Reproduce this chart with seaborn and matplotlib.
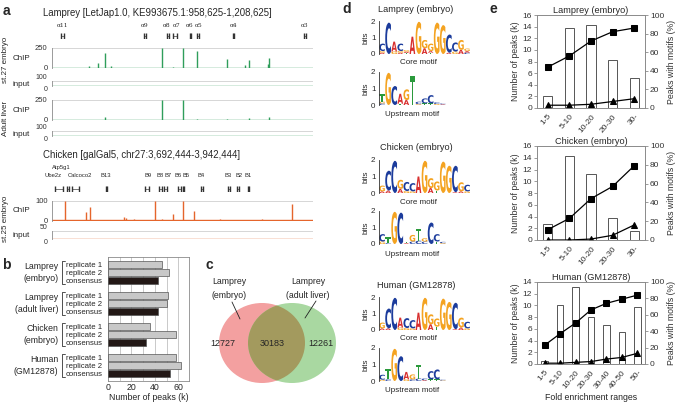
import numpy as np
import matplotlib
matplotlib.use("Agg")
import matplotlib.pyplot as plt
import matplotlib.transforms as mtransforms
from matplotlib.patches import Ellipse, PathPatch
from matplotlib.textpath import TextPath
from matplotlib.font_manager import FontProperties
import seaborn as sns

sns.set_theme(style="white")
plt.rcParams['font.family'] = ['Liberation Sans', 'DejaVu Sans']

# ---------------- data ----------------
# panel a: lamprey locus (kb from 958,625)
lam_genes = ["α11", "α9", "α8", "α7", "α6", "α5", "α4", "α3"]
lam_gene_start = [9, 88, 110.5, 115.5, 132, 139, 173, 241]
lam_gene_end = [11.5, 90.5, 112.5, 120, 133.5, 140.5, 174.5, 243]
lam_label_kb = [10.2, 89.2, 109.5, 119, 131.5, 140.5, 173.6, 242]
lam_emb_peak_kb = [36, 44, 51, 57, 105, 115.5, 125, 138.5, 168, 185, 189, 206.5, 207.5]
lam_emb_peak_h = [30, 62, 190, 20, 250, 15, 250, 210, 112, 40, 95, 50, 120]
lam_liv_peak_kb = [51, 105, 125, 138.5, 168, 189, 207.5]
lam_liv_peak_h = [35, 250, 250, 10, 8, 30, 33]

# chicken locus (kb from 3,692,444)
chk_genes = ["Ube2z", "Atp5g1", "Calcoco2", "B13", "B9", "B8", "B7", "B6", "B5", "B4", "B3", "B2", "B1"]
chk_gene_start = [3, 15, 19, 51.5, 89.5, 103, 107, 121, 125, 143, 168.5, 177.5, 187.5]
chk_gene_end = [11, 17, 26, 53, 93, 105, 110, 123.5, 126.5, 144.5, 170.5, 179, 189]
chk_label_kb = [1.7, 9, 27, 52, 92, 103.5, 111, 120.5, 128.5, 142.7, 169, 178.7, 188]
chk_label_row = [0, 1, 0, 0, 0, 0, 0, 0, 0, 0, 0, 0, 0]
chk_peak_kb = [13, 33, 36.6, 69, 71, 79, 99, 105, 115.6, 125, 135.7, 161, 201, 229.6]
chk_peak_h = [98, 45, 70, 18, 15, 8, 100, 8, 32, 100, 50, 8, 8, 83]

# panel b: number of peaks (k)
b_groups = ["Lamprey\n(embryo)", "Lamprey\n(adult liver)", "Chicken\n(embryo)", "Human\n(GM12878)"]
b_rows = ["replicate 1", "replicate 2", "consensus"]
rep1 = [46, 51, 35.5, 58]
rep2 = [52, 50, 58, 62.5]
consensus = [42.5, 42.5, 32.5, 52.5]

# panel c: overlap of lamprey peaks
venn_counts = [12727, 30183, 12261]

# panel d: motif logos (bits per letter)
lamprey_core = [
    {"A": 0.08, "G": 0.1, "C": 0.45}, {"C": 1.9}, {"G": 0.15, "A": 0.6},
    {"G": 0.1, "A": 0.08, "C": 0.45}, {"T": 0.06, "A": 0.08, "G": 0.1}, {"A": 1.05},
    {"G": 1.95}, {"A": 0.35, "G": 0.5}, {"T": 0.08, "A": 0.1, "G": 0.45},
    {"G": 1.9}, {"G": 1.75}, {"A": 0.08, "C": 1.1},
    {"G": 0.15, "C": 0.55}, {"A": 0.25, "G": 0.6}, {"C": 0.08, "A": 0.1, "G": 0.15},
]
lamprey_up = [
    {"C": 0.1, "G": 0.1, "T": 0.45}, {"G": 1.95}, {"C": 1.15}, {"T": 0.08, "A": 0.6},
    {"A": 0.3, "G": 0.65}, {"T": 1.75}, {"G": 0.05, "C": 0.15}, {"T": 0.1, "C": 0.3},
    {"T": 0.1, "C": 0.5}, {"G": 0.06, "C": 0.1}, {"A": 0.04, "C": 0.05},
]
chicken_core = [
    {"A": 0.1, "G": 0.35}, {"A": 0.15, "C": 1.2}, {"C": 1.95}, {"A": 0.25, "G": 0.55},
    {"G": 0.12, "C": 0.55}, {"G": 0.1, "C": 0.5}, {"A": 1.0}, {"G": 1.95},
    {"A": 0.3, "G": 0.6}, {"T": 0.15, "G": 0.55}, {"G": 1.9}, {"G": 1.65},
    {"A": 0.05, "C": 1.6}, {"A": 0.1, "G": 0.55}, {"G": 0.1, "C": 0.4},
]
chicken_up = [
    {"G": 0.15, "C": 0.45}, {"C": 0.05, "T": 0.35}, {"G": 1.95}, {"C": 1.9},
    {"T": 0.08, "A": 0.05}, {"C": 0.15, "G": 0.4}, {"C": 0.2, "T": 0.7},
    {"C": 0.15, "G": 0.2}, {"C": 1.3}, {"T": 0.15, "C": 0.45}, {"G": 0.05, "C": 0.08},
]
human_core = [
    {"A": 0.1, "G": 0.35}, {"A": 0.1, "C": 1.2}, {"C": 1.95}, {"G": 0.15, "A": 0.6},
    {"G": 0.12, "C": 0.6}, {"G": 0.1, "C": 0.5}, {"A": 1.05}, {"G": 1.95},
    {"A": 0.35, "G": 0.6}, {"T": 0.2, "G": 0.5}, {"G": 1.9}, {"G": 1.7},
    {"A": 0.05, "C": 1.6}, {"A": 0.15, "G": 0.6}, {"G": 0.1, "C": 0.4},
]
human_up = [
    {"G": 0.08, "C": 0.3}, {"C": 0.1, "T": 0.65}, {"G": 1.95}, {"C": 1.5},
    {"G": 0.1, "A": 0.45}, {"C": 0.1, "G": 0.3}, {"C": 0.15, "T": 0.85},
    {"A": 0.05, "C": 0.1}, {"T": 0.1, "C": 0.5}, {"T": 0.1, "C": 0.6}, {"G": 0.03, "C": 0.05},
]

# panel e: fold enrichment
e_cats5 = ["1-5", "5-10", "10-20", "20-30", "30-"]
e_cats7 = ["1-5", "5-10", "10-20", "20-30", "30-40", "40-50", "50-"]
lam_e_peaks = [2.1, 13.8, 14.2, 8.3, 5.2]
lam_e_core = [44, 56, 72, 82, 86]
lam_e_up = [3, 3, 4, 7, 10]
chk_e_peaks = [2.8, 14.3, 11.2, 3.8, 1.5]
chk_e_core = [11, 23, 44, 57, 79]
chk_e_up = [0, 0, 1, 5, 16]
hum_e_peaks = [0.5, 10.0, 13.1, 8.0, 6.6, 5.4, 9.7]
hum_e_core = [23, 37, 50, 66, 74, 79, 84]
hum_e_up = [1, 1, 2, 3, 6, 8, 13]

# ---------------- figure helpers ----------------
W, H = 675, 404
fig = plt.figure(figsize=(W / 100, H / 100), dpi=100)


def box(x0, y0, x1, y1):
    return fig.add_axes([x0 / W, 1 - y1 / H, (x1 - x0) / W, (y1 - y0) / H])


def ftext(x, y, s, **kw):
    kw.setdefault("va", "center")
    fig.text(x / W, 1 - y / H, s, **kw)


GRAY = "#8a8a8a"
LAM_COL = "#2f9e5b"
CHK_COL = "#e5652c"

for lab, (x, y) in zip("abcde", [(6, 11), (6, 265), (209, 265), (347, 9), (493, 9)]):
    ftext(x, y, lab, fontsize=10, fontweight="bold", ha="center")


# ---------------- panel a ----------------
def gene_axis(y0, y1, starts, ends):
    ax = box(51.7, y0, 313.3, y1)
    ax.set_xlim(0, 250)
    ax.set_ylim(0, 1)
    ax.axis("off")
    for s, e in zip(starts, ends):
        ax.plot([s, e], [0.45, 0.45], color="#444444", lw=0.5)
        ax.vlines([s, e], 0.0, 0.9, color="#333333", lw=1.0)
    return ax


def track(y0, y1, ymax, kb, heights, color, small=False):
    ax = box(51.7, y0, 313.3, y1)
    ax.set_xlim(0, 250)
    ax.set_ylim(0, ymax)
    ax.axhline(ymax, color="#d0d0d0", lw=0.6)
    ax.axhline(ymax * 0.02, color=color, lw=1.0)
    ax.vlines(kb, 0, heights, color=color, lw=1.0)
    for sp in ["top", "right", "bottom"]:
        ax.spines[sp].set_visible(False)
    ax.spines["left"].set_color(GRAY)
    ax.spines["left"].set_linewidth(0.6)
    ax.set_xticks([])
    ax.set_yticks([0, ymax])
    ax.tick_params(axis="y", direction="in", length=2, width=0.6, color=GRAY,
                   labelsize=5 if small else 5.5, pad=3, labelcolor="#333333")
    if small:
        lo, hi = ax.get_yticklabels()
        lo.set_va("top")
        hi.set_va("bottom")
    return ax


ftext(43, 12.5, "Lamprey [LetJap1.0, KE993675.1:958,625-1,208,625]", fontsize=6.9)
gax = gene_axis(32, 39, lam_gene_start, lam_gene_end)
for g, x in zip(lam_genes, lam_label_kb):
    gax.text(x, 2.0, g, fontsize=4.2, ha="center", va="center", family="DejaVu Serif")
track(48, 68, 250, lam_emb_peak_kb, lam_emb_peak_h, LAM_COL)
track(80.7, 85.7, 100, [], [], LAM_COL, small=True)
track(100, 120, 250, lam_liv_peak_kb, lam_liv_peak_h, LAM_COL)
track(130.7, 136, 100, [], [], LAM_COL, small=True)
for y, s in [(58, "ChIP"), (84, "input"), (110, "ChIP"), (134, "input")]:
    ftext(21, y, s, fontsize=5.8, ha="center")
ftext(6, 60, "st.27 embryo", fontsize=5.8, rotation=90, ha="center")
ftext(6, 118, "Adult liver", fontsize=5.8, rotation=90, ha="center")

ftext(43, 155, "Chicken [galGal5, chr27:3,692,444-3,942,444]", fontsize=6.9)
gax = gene_axis(185, 192, chk_gene_start, chk_gene_end)
for g, x, r in zip(chk_genes, chk_label_kb, chk_label_row):
    gax.text(x, 2.3 + 1.25 * r, g, fontsize=4.2, ha="center", va="center")
track(200.7, 220.7, 100, chk_peak_kb, chk_peak_h, CHK_COL)
track(231, 239, 50, [], [], CHK_COL, small=True)
for y, s in [(211, "ChIP"), (236, "input")]:
    ftext(21, y, s, fontsize=5.8, ha="center")
ftext(6, 219, "st.25 embryo", fontsize=5.8, rotation=90, ha="center")

# ---------------- panel b ----------------
axb = box(108, 257, 189, 381)
step = len(b_rows) + 0.85
ypos, vals, cols = [], [], []
for g in range(len(b_groups)):
    for r, series in enumerate([rep1, rep2, consensus]):
        ypos.append(g * step + r)
        vals.append(series[g])
        cols.append("#231816" if r == 2 else "#c8c8c8")
axb.barh(ypos, vals, height=0.88, color=cols, edgecolor="#555555", linewidth=0.5, zorder=3)
axb.set_xlim(0, 69)
axb.set_ylim(ypos[-1] + 0.9, -0.9)
axb.set_xticks([0, 20, 40, 60])
axb.set_xticks(np.arange(10, 70, 10), minor=True)
axb.grid(True, axis="x", which="both", color="#c0c0c0", lw=0.6)
axb.set_yticks(ypos)
axb.set_yticklabels(b_rows * len(b_groups))
axb.tick_params(axis="y", length=0, labelsize=5.6, pad=4)
axb.tick_params(axis="x", length=0, labelsize=6.3, pad=1.5)
axb.set_xlabel("Number of peaks (k)", fontsize=6.3, labelpad=0.5)
for sp in axb.spines.values():
    sp.set_color(GRAY)
    sp.set_linewidth(0.6)
tr = axb.get_yaxis_transform()
for g, name in enumerate(b_groups):
    top, bot = g * step - 0.4, g * step + 2.4
    axb.text(-0.61, g * step + 1, name, transform=tr, ha="right", va="center",
             fontsize=6.3, linespacing=1.35)
    axb.plot([-0.535, -0.565, -0.565, -0.535], [top, top, bot, bot], transform=tr,
             color="#333333", lw=0.6, clip_on=False)

# ---------------- panel c ----------------
axc = box(200, 270, 350, 395)
axc.set_xlim(200, 350)
axc.set_ylim(395, 270)
axc.axis("off")
red = Ellipse((262, 343), 86, 80, color="#f3a0a0", lw=0)
green = Ellipse((292, 343), 88, 80, color="#a9d8a1", lw=0)
axc.add_patch(red)
axc.add_patch(green)
over = Ellipse((262, 343), 86, 80, color="#a39a5e", lw=0)
axc.add_patch(over)
over.set_clip_path(green)
for x, n in zip([223, 272, 321], venn_counts):
    axc.text(x, 344, str(n), fontsize=6.5, ha="center", va="center")
axc.text(229, 281, "Lamprey", fontsize=6.3, ha="center", va="center")
axc.text(229, 295, "(embryo)", fontsize=6.3, ha="center", va="center")
axc.text(308, 281, "Lamprey", fontsize=6.3, ha="center", va="center")
axc.text(308, 295, "(adult liver)", fontsize=6.3, ha="center", va="center")
axc.plot([232, 240], [302, 319], color="#222222", lw=0.6)
axc.plot([316, 305], [301, 318], color="#222222", lw=0.6)

# ---------------- panel d ----------------
LOGO_FP = FontProperties(family="DejaVu Sans", weight="bold")
LOGO_COLORS = {"A": "#d8302f", "C": "#1c3c9c", "G": "#f4a321", "T": "#2b9a3c"}


def draw_logo(y0, y1, motif):
    ax = box(379, y0, 379 + 6.07 * len(motif), y1)
    for i, col in enumerate(motif):
        base = 0
        for letter, h in sorted(col.items(), key=lambda kv: kv[1]):
            tp = TextPath((0, 0), letter, size=1, prop=LOGO_FP)
            bb = tp.get_extents()
            t = (mtransforms.Affine2D().translate(-bb.x0, -bb.y0)
                 .scale(0.94 / bb.width, h / bb.height).translate(i - 0.47, base))
            ax.add_patch(PathPatch(t.transform_path(tp), fc=LOGO_COLORS[letter], ec="none"))
            base += h
    ax.set_xlim(-0.5, len(motif) - 0.5)
    ax.set_ylim(0, 2)
    for sp in ["top", "right", "bottom"]:
        ax.spines[sp].set_visible(False)
    ax.spines["left"].set_color("#333333")
    ax.spines["left"].set_linewidth(0.6)
    ax.set_xticks([])
    ax.set_yticks([0, 1, 2])
    ax.tick_params(axis="y", length=1.5, width=0.6, labelsize=5.8, pad=1)
    ax.set_ylabel("bits", fontsize=5.8, labelpad=1)
    return ax


for top, title, core, up in [(0, "Lamprey (embryo)", lamprey_core, lamprey_up),
                             (139, "Chicken (embryo)", chicken_core, chicken_up),
                             (276, "Human (GM12878)", human_core, human_up)]:
    ftext(416, top + 9, title, fontsize=6.6, ha="center")
    draw_logo(top + 21, top + 54, core)
    ftext(418, top + 63, "Core motif", fontsize=5.8, ha="center")
    draw_logo(top + 72, top + 105, up)
    ftext(412, top + 115, "Upstream motif", fontsize=5.8, ha="center")


# ---------------- panel e ----------------
def fold_panel(y0, y1, title, cats, peaks, core, up, ymax, xlabel=None):
    ax = box(537, y0, 645, y1)
    sns.barplot(x=cats, y=peaks, ax=ax, color="white", edgecolor="#555555",
                linewidth=0.7, width=0.42, saturation=1)
    ax.set_ylim(0, ymax)
    ax.set_yticks(np.arange(0, ymax + 1, 2))
    ax2 = ax.twinx()
    xs = np.arange(len(cats))
    sns.lineplot(x=xs, y=core, ax=ax2, color="black", lw=0.9, marker="s",
                 markersize=4.5, markeredgecolor="black")
    sns.lineplot(x=xs, y=up, ax=ax2, color="black", lw=0.9, marker="^",
                 markersize=4.5, markeredgecolor="black")
    ax2.set_ylim(0, 100)
    ax2.set_yticks(np.arange(0, 101, 20))
    ax.set_xlim(-0.5, len(cats) - 0.5)
    for a in (ax, ax2):
        for sp in a.spines.values():
            sp.set_color(GRAY)
            sp.set_linewidth(0.6)
        a.tick_params(length=2, width=0.6, color=GRAY, labelsize=6, pad=1.5, labelcolor="#333333")
    ax.set_xticks(xs)
    ax.set_xticklabels(cats, rotation=50, ha="right", rotation_mode="anchor", fontsize=6)
    ax.set_ylabel("Number of peaks (k)", fontsize=6.3, labelpad=2, color="#333333")
    ax2.set_ylabel("Peaks with motifs (%)", fontsize=6.3, labelpad=2, color="#333333")
    ax.set_title(title, fontsize=6.6, pad=1.5)
    if xlabel:
        ax.set_xlabel(xlabel, fontsize=6.3, labelpad=2)
    else:
        ax.set_xlabel("")


fold_panel(15, 108, "Lamprey (embryo)", e_cats5, lam_e_peaks, lam_e_core, lam_e_up, 16)
fold_panel(146, 240, "Chicken (embryo)", e_cats5, chk_e_peaks, chk_e_core, chk_e_up, 16)
fold_panel(282, 364, "Human (GM12878)", e_cats7, hum_e_peaks, hum_e_core, hum_e_up, 14,
           xlabel="Fold enrichment ranges")

fig.savefig("out.png", dpi=100)
